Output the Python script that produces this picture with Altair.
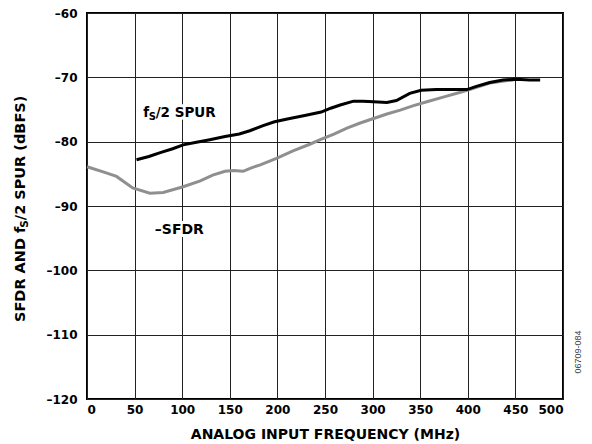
import altair as alt
import pandas as pd

# fs/2 spur (black)
spur_freq = [52, 65, 77, 90, 101, 115, 129, 145, 160, 171, 185, 197, 213, 230, 246, 256, 266, 280, 290, 301, 315, 325, 339, 351, 367, 383, 399, 409, 423, 437, 451, 465, 476]
spur_db = [-82.8, -82.3, -81.7, -81.1, -80.5, -80.1, -79.7, -79.2, -78.8, -78.3, -77.5, -76.9, -76.4, -75.9, -75.4, -74.8, -74.3, -73.7, -73.7, -73.8, -73.9, -73.6, -72.5, -72.0, -71.9, -71.9, -71.9, -71.4, -70.8, -70.4, -70.3, -70.4, -70.4]

# -SFDR (gray)
sfdr_freq = [0, 17, 31, 48, 66, 80, 101, 119, 132, 145, 154, 164, 172, 182, 199, 217, 234, 245, 260, 273, 287, 301, 315, 329, 343, 357, 376, 395, 410, 423, 436, 448]
sfdr_db = [-83.9, -84.7, -85.4, -87.2, -88.0, -87.9, -87.0, -86.1, -85.2, -84.6, -84.5, -84.6, -84.1, -83.6, -82.6, -81.4, -80.4, -79.7, -78.8, -77.9, -77.1, -76.4, -75.7, -75.1, -74.4, -73.8, -73.0, -72.2, -71.5, -70.9, -70.6, -70.4]

x_ticks = [0, 50, 100, 150, 200, 250, 300, 350, 400, 450, 500]
y_ticks = [-120, -110, -100, -90, -80, -70, -60]

FONT = "DejaVu Sans"
W, H = 476, 386

spur = pd.DataFrame({"freq": spur_freq, "db": spur_db})
sfdr = pd.DataFrame({"freq": sfdr_freq, "db": sfdr_db})

xs = alt.Scale(domain=[0, 500], nice=False, zero=False)
ys = alt.Scale(domain=[-120, -60], nice=False, zero=False)

lab_expr = "datum.value < 0 ? '\u2013' + abs(datum.value) : datum.value"

x_enc = alt.X("freq:Q", scale=xs, axis=alt.Axis(
    values=x_ticks, title="ANALOG INPUT FREQUENCY (MHz)", labelExpr=lab_expr,
    grid=True, gridColor="#222", gridWidth=1, domain=False, ticks=False,
    labelFont=FONT, labelFontWeight="bold", labelFontSize=12, labelColor="black",
    labelPadding=5, titleFont=FONT, titleFontWeight="bold", titleFontSize=14,
    titleColor="black", titlePadding=12))
y_enc = alt.Y("db:Q", scale=ys, axis=alt.Axis(
    values=y_ticks, title=None, labelExpr=lab_expr,
    grid=True, gridColor="#222", gridWidth=1, domain=False, ticks=False,
    labelFont=FONT, labelFontWeight="bold", labelFontSize=12, labelColor="black",
    labelPadding=10))

gray_line = alt.Chart(sfdr).mark_line(color="#8f8f8f", strokeWidth=3).encode(x=x_enc, y=y_enc)
black_line = alt.Chart(spur).mark_line(color="black", strokeWidth=3).encode(x="freq:Q", y="db:Q")

# in-chart labels
def label(txt, f, d, size, dx=0, dy=0, halo=False, align="left"):
    df = pd.DataFrame({"freq": [f], "db": [d], "t": [txt]})
    kw = dict(font=FONT, fontWeight="bold", fontSize=size, align=align,
              baseline="middle", dx=dx, dy=dy)
    if halo:
        kw.update(stroke="white", strokeWidth=6, color="white")
    else:
        kw.update(color="black")
    return alt.Chart(df).mark_text(**kw).encode(x="freq:Q", y="db:Q", text="t:N")

lf, ld = 59, -75.55
sf, sd = 97, -93.75
labels = []
for halo in (True, False):
    labels += [
        label("f", lf, ld, 13.5, halo=halo),
        label("S", lf, ld, 10, dx=5.5, dy=4, halo=halo),
        label("/2 SPUR", lf, ld, 13.5, dx=12.5, halo=halo),
        label("\u2013SFDR", sf, sd, 14, halo=halo, align="center"),
    ]

# y axis title built from pieces (rotated, reading upwards)
def ytitle(txt, ypix, xpix, size):
    df = pd.DataFrame({"t": [txt]})
    return alt.Chart(df).mark_text(font=FONT, fontWeight="bold", fontSize=size,
                                   angle=270, align="left", baseline="middle",
                                   color="black").encode(
        x=alt.value(xpix), y=alt.value(ypix), text="t:N")

TS = 14.5
TX = -66
y0 = 309
w1 = 6.467 * TS
wS = 0.72 * 10.5
yt = [
    ytitle("SFDR AND f", y0, TX, TS),
    ytitle("S", y0 - w1 - 0.5, TX + 3.5, 10.5),
    ytitle("/2 SPUR (dBFS)", y0 - w1 - wS - 0.5, TX, TS),
]

code = alt.Chart(pd.DataFrame({"t": ["06709-084"]})).mark_text(
    font="Liberation Sans", fontSize=9, angle=270, align="center",
    baseline="middle", color="#444").encode(x=alt.value(W + 15), y=alt.value(339), text="t:N")

chart = alt.layer(gray_line, black_line, *labels, *yt, code).properties(
    width=W, height=H,
    autosize=alt.AutoSizeParams(type="none"),
    padding={"left": 79, "top": 5, "right": 21, "bottom": 43},
).configure_view(stroke="black", strokeWidth=2)

chart.save("out.html", embed_options={"renderer": "svg", "actions": False})
